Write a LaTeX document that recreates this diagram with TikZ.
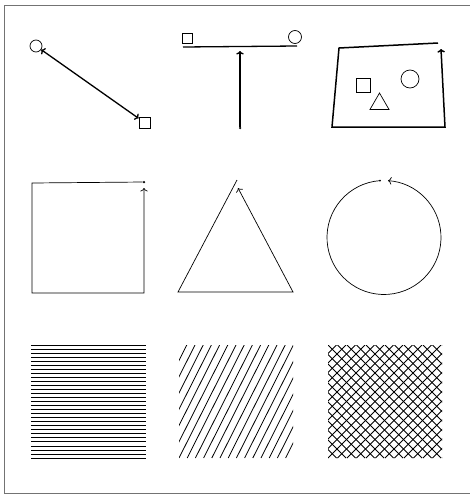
\documentclass[tikz,border=0pt]{standalone}
\usetikzlibrary{arrows.meta,shapes.geometric,calc}

\begin{document}
\begin{tikzpicture}[
	x=1pt, y=-1pt,
	>={To[length=3.5pt,width=7.5pt]},
	dotpt/.style={ circle, fill, inner sep=0pt, minimum size=2.5pt },
	ring/.style={ circle, draw, line width=0.7pt, inner sep=0pt, minimum size=12pt },
	box/.style={ draw, line width=0.7pt, inner sep=0pt, minimum size=11pt },
	tri/.style={ draw, line width=0.7pt, regular polygon, regular polygon sides=3, inner sep=0pt, minimum size=22pt },
	heavy/.style={ line width=1.3pt },
	fine/.style={ line width=0.7pt },
	hatch/.style={ line width=0.8pt }
]
\useasboundingbox (0,0) rectangle (470,498);

% frame
\draw[black!55, line width=0.8pt] (475,5) -- (4,5) -- (4,493) -- (475,493);

% first row
\node[ring] (c1) at (36,46) {};
\node[box] (s1) at (144.5,122.5) {};
\draw[heavy,<->] (c1) -- (s1);

\node[box, minimum size=10pt] (s2) at (187,38) {};
\node[ring, minimum size=13pt] (c2) at (295,37) {};
\coordinate (barl) at (183,47);
\coordinate (barr) at (297,46);
\draw[heavy] (barl) -- (barr);
\node[dotpt] (foot) at (240,128) {};
\coordinate (head) at (240,51);
\draw[heavy,->] (foot) -- (head);

\coordinate (q1) at (438,43);
\coordinate (q2) at (339,48);
\coordinate (q3) at (332,127);
\coordinate (q4) at (445,127);
\coordinate (q5) at (441,49);
\draw[line width=1.5pt,->] (q1) -- (q2) -- (q3) -- (q4) -- (q5);
\node[box, minimum size=14pt] (s3) at (363,85) {};
\node[ring, minimum size=18pt] (c3) at (410,79) {};
\node[tri] (t3) at (379.5,104) {};

% second row
\node[dotpt] (sq0) at (144,182) {};
\coordinate (sq1) at (32,183);
\coordinate (sq2) at (32,293);
\coordinate (sq3) at (144,293);
\coordinate (sq4) at (144,188);
\draw[fine,->] (sq0) -- (sq1) -- (sq2) -- (sq3) -- (sq4);

\coordinate (tr0) at (237,180);
\coordinate (tr1) at (178,292);
\coordinate (tr2) at (293,292);
\coordinate (tr3) at (238,188);
\draw[fine,->] (tr0) -- (tr1) -- (tr2) -- (tr3);

\coordinate (ci) at (384,237.5);
\node[dotpt, minimum size=2pt] (ci0) at ($(ci)+(-94:57)$) {};
\draw[fine,->] (ci0.center) arc[start angle=-94, end angle=-446, radius=57];

% third row
\foreach \k in {0,...,28}
  \draw[hatch, line width=1pt] (31,345+\k*4.04) -- (146,345+\k*4.04);

\begin{scope}
\clip (179,345) rectangle (293,458);
\foreach \i in {-8,...,14}
  \draw[hatch] (179+\i*8.2,458) -- ++(57,-113);
\end{scope}

\begin{scope}
\clip (328,345) rectangle (442,458);
\foreach \i in {-12,...,12} {
  \draw[hatch] (328+\i*9.5,458) -- ++(113,-113);
  \draw[hatch] (328+\i*9.5,345) -- ++(113,113);
}
\end{scope}

\end{tikzpicture}
\end{document}
